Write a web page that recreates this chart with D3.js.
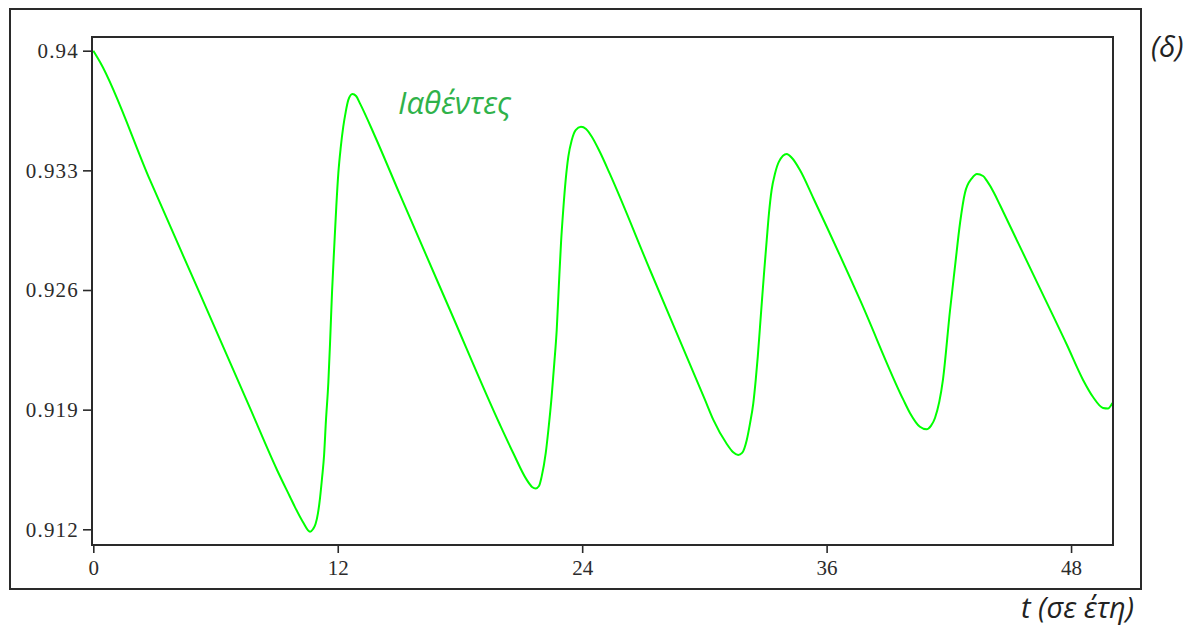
<!DOCTYPE html>
<html>
<head>
<meta charset="utf-8">
<script src="https://cdn.jsdelivr.net/npm/d3@7"></script>
<style>
  html, body { margin: 0; padding: 0; background: #fff; }
  svg { display: block; }
</style>
</head>
<body>
<div id="chart"></div>
<script>
// ---- data ----
const seriesName = "Ιαθέντες";
const xTickValues = [0, 12, 24, 36, 48];
const yTickValues = [0.912, 0.919, 0.926, 0.933, 0.94];
const yTickLabels = ["0.912", "0.919", "0.926", "0.933", "0.94"];
const tYears = [
  0, 0.33, 2.78, 5.24, 7.69, 9.02, 9.66, 9.90, 10.29, 10.64, 10.79, 10.91,
  11.03, 11.13, 11.23, 11.33, 11.42, 11.54, 11.63, 11.72, 11.83, 11.93, 12.03,
  12.15, 12.27, 12.39, 12.52, 12.72, 12.90, 13.09, 13.80, 15.06, 17.51, 19.97,
  20.62, 21.28, 21.54, 21.72, 21.88, 22.01, 22.21, 22.34, 22.50, 22.63, 22.75,
  22.86, 22.96, 23.07, 23.19, 23.32, 23.49, 23.68, 23.94, 24.19, 24.48, 24.87,
  25.36, 27.33, 30.03, 30.44, 31.10, 31.40, 31.66, 31.85, 32.08, 32.24, 32.40,
  32.52, 32.62, 32.73, 32.84, 32.94, 33.06, 33.17, 33.30, 33.47, 33.66, 34.04,
  34.30, 34.69, 35.35, 37.64, 39.77, 40.09, 40.58, 40.91, 41.12, 41.32, 41.71,
  42.06, 42.30, 42.55, 42.79, 43.14, 43.38, 43.68, 43.87, 44.22, 44.51, 46.13,
  47.80, 48.59, 49.08, 49.57, 49.81, 50.03
];
const recovered = [
  0.94000, 0.93934, 0.93244, 0.92577, 0.91910, 0.91547, 0.91389, 0.91330,
  0.91243, 0.91186, 0.91202, 0.91231, 0.91295, 0.91383, 0.91500, 0.91635,
  0.91834, 0.92062, 0.92313, 0.92588, 0.92857, 0.93091, 0.93285, 0.93437,
  0.93554, 0.93641, 0.93712, 0.93747, 0.93735, 0.93692, 0.93507, 0.93156,
  0.92483, 0.91810, 0.91645, 0.91489, 0.91448, 0.91439, 0.91453, 0.91508,
  0.91645, 0.91781, 0.91976, 0.92171, 0.92366, 0.92639, 0.92873, 0.93068,
  0.93244, 0.93380, 0.93478, 0.93536, 0.93555, 0.93542, 0.93495, 0.93407,
  0.93279, 0.92717, 0.91957, 0.91840, 0.91699, 0.91652, 0.91635, 0.91647,
  0.91723, 0.91820, 0.91937, 0.92074, 0.92210, 0.92385, 0.92561, 0.92717,
  0.92893, 0.93049, 0.93185, 0.93283, 0.93351, 0.93396, 0.93372, 0.93302,
  0.93137, 0.92542, 0.91957, 0.91881, 0.91800, 0.91785, 0.91805, 0.91851,
  0.92074, 0.92483, 0.92735, 0.92992, 0.93168, 0.93255, 0.93279, 0.93267,
  0.93238, 0.93168, 0.93097, 0.92694, 0.92278, 0.92074, 0.91974, 0.91910,
  0.91907, 0.91939
];

// ---- layout ----
const W = 1194, H = 628;
const plot = { left: 92, top: 37, right: 1113, bottom: 545 };

const svg = d3.select("#chart").append("svg")
  .attr("width", W).attr("height", H)
  .attr("viewBox", `0 0 ${W} ${H}`);

// outer frame
svg.append("rect")
  .attr("x", 10).attr("y", 9).attr("width", 1131).attr("height", 580)
  .attr("fill", "none").attr("stroke", "#2a2a2a").attr("stroke-width", 2);

const x = d3.scaleLinear().domain([0, 50]).range([93.3, 1111.8]);
const y = d3.scaleLinear().domain([0.912, 0.94]).range([529.3, 50.7]);

// clip
svg.append("clipPath").attr("id", "clip")
  .append("rect")
  .attr("x", plot.left).attr("y", plot.top)
  .attr("width", plot.right - plot.left).attr("height", plot.bottom - plot.top);

// axes
const yAxis = d3.axisLeft(y)
  .tickValues(yTickValues)
  .tickFormat((d, i) => yTickLabels[i])
  .tickSize(9).tickPadding(4);
const gy = svg.append("g").attr("transform", `translate(${plot.left},0)`).call(yAxis);

const xAxis = d3.axisBottom(x)
  .tickValues(xTickValues)
  .tickFormat(d3.format("d"))
  .tickSize(8).tickPadding(7);
const gx = svg.append("g").attr("transform", `translate(0,${plot.bottom})`).call(xAxis);

[gx, gy].forEach(g => {
  g.select(".domain").remove();
  g.selectAll(".tick line").attr("stroke", "#2a2a2a").attr("stroke-width", 1.6);
  g.selectAll(".tick text")
    .attr("fill", "#2b2b2b")
    .style("font-family", "'Liberation Serif', 'Times New Roman', serif")
    .style("font-size", "21px");
});
gy.selectAll(".tick text").style("letter-spacing", "1.2px");

// series line
const data = tYears.map((t, i) => ({ t, v: recovered[i] }));
const line = d3.line()
  .x(d => x(d.t))
  .y(d => y(d.v))
  .curve(d3.curveMonotoneX);

svg.append("path")
  .datum(data)
  .attr("clip-path", "url(#clip)")
  .attr("d", line)
  .attr("fill", "none")
  .attr("stroke", "#00ff00")
  .attr("stroke-width", 2);

// inner plot frame
svg.append("rect")
  .attr("x", plot.left).attr("y", plot.top)
  .attr("width", plot.right - plot.left).attr("height", plot.bottom - plot.top)
  .attr("fill", "none").attr("stroke", "#2a2a2a").attr("stroke-width", 2);

// labels
const italicFont = "'Open Sans', 'DejaVu Sans', sans-serif";
svg.append("text")
  .attr("x", 398).attr("y", 114)
  .attr("fill", "#2fb24a")
  .style("font-family", italicFont)
  .style("font-style", "italic")
  .style("font-size", "31px")
  .text(seriesName);

svg.append("text")
  .attr("x", 1151).attr("y", 57)
  .attr("fill", "#222")
  .style("font-family", italicFont)
  .style("font-style", "italic")
  .style("font-size", "29px")
  .text("(δ)");

svg.append("text")
  .attr("x", 1134).attr("y", 618)
  .attr("text-anchor", "end")
  .attr("fill", "#222")
  .style("font-family", italicFont)
  .style("font-style", "italic")
  .style("font-size", "29px")
  .text("t (σε έτη)");
</script>
</body>
</html>
